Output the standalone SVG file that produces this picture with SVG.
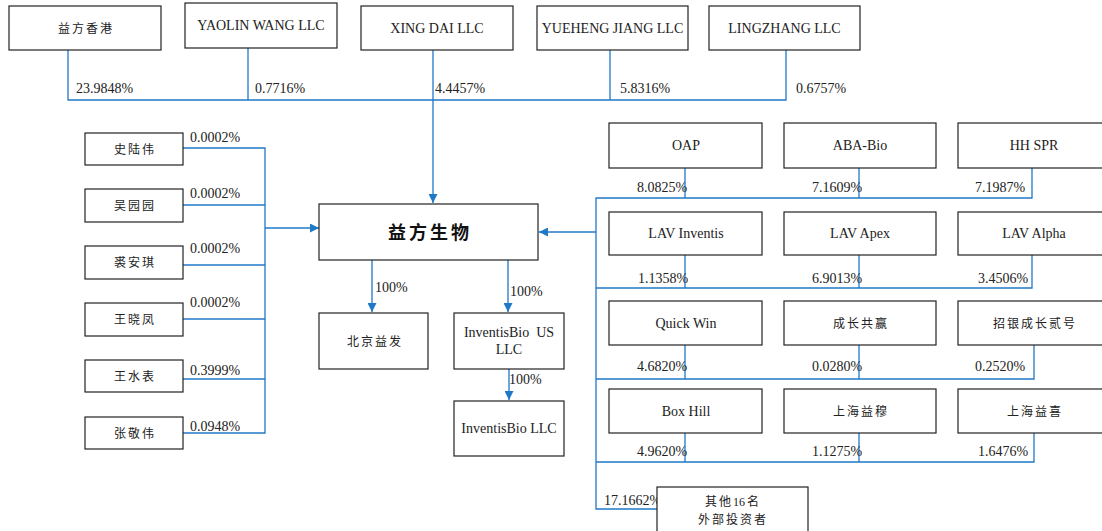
<svg xmlns="http://www.w3.org/2000/svg" width="1102" height="531" viewBox="0 0 1102 531">
<style>
.box{fill:#fff;stroke:#222;stroke-width:1.2}
.t{font-family:"Liberation Serif","Noto Sans CJK SC",serif;font-size:14px;fill:#222}
.c{text-anchor:middle}
.zh{font-family:"Liberation Serif","Noto Sans CJK SC",serif;font-size:12px;letter-spacing:2px;fill:#222;text-anchor:middle}
.ln{fill:none;stroke:#1F78C8;stroke-width:1.3}
</style>
<defs>
<marker id="arr" viewBox="0 0 10 10" refX="10" refY="5" markerWidth="9" markerHeight="9" markerUnits="userSpaceOnUse" orient="auto">
<path d="M0,0 L10,5 L0,10 z" fill="#1F78C8"/>
</marker>
</defs>
<rect width="1102" height="531" fill="#fff"/>

<g id="connectors">
<path class="ln" d="M68,50 V100 H786 V50"/>
<path class="ln" d="M248,48 V100"/>
<path class="ln" d="M610,50 V100"/>
<path class="ln" d="M433,50 V203" marker-end="url(#arr)"/>
<path class="ln" d="M183,148 H265 V433 H183"/>
<path class="ln" d="M183,205 H265"/>
<path class="ln" d="M183,265 H265"/>
<path class="ln" d="M183,319 H265"/>
<path class="ln" d="M183,379 H265"/>
<path class="ln" d="M265,228 H319" marker-end="url(#arr)"/>
<path class="ln" d="M372,260 V312" marker-end="url(#arr)"/>
<path class="ln" d="M508,260 V312" marker-end="url(#arr)"/>
<path class="ln" d="M509,369 V400" marker-end="url(#arr)"/>
<path class="ln" d="M1032,168 V198 H596 V509 H657"/>
<path class="ln" d="M685,168 V198"/>
<path class="ln" d="M859,168 V198"/>
<path class="ln" d="M1032,255 V288 H596"/>
<path class="ln" d="M685,255 V288"/>
<path class="ln" d="M859,255 V288"/>
<path class="ln" d="M1034,345 V379 H596"/>
<path class="ln" d="M685,345 V379"/>
<path class="ln" d="M859,345 V379"/>
<path class="ln" d="M1034,433 V462 H596"/>
<path class="ln" d="M685,433 V462"/>
<path class="ln" d="M859,433 V462"/>
<path class="ln" d="M596,232 H539" marker-end="url(#arr)"/>
</g>

<g id="labels">
<text class="t" x="76" y="93">23.9848%</text>
<text class="t" x="255" y="93">0.7716%</text>
<text class="t" x="435" y="93">4.4457%</text>
<text class="t" x="620" y="93">5.8316%</text>
<text class="t" x="796" y="93">0.6757%</text>
<text class="t" x="190" y="142">0.0002%</text>
<text class="t" x="190" y="198">0.0002%</text>
<text class="t" x="190" y="253">0.0002%</text>
<text class="t" x="190" y="307">0.0002%</text>
<text class="t" x="190" y="375">0.3999%</text>
<text class="t" x="190" y="431">0.0948%</text>
<text class="t" x="375" y="292">100%</text>
<text class="t" x="510" y="296">100%</text>
<text class="t" x="509" y="384">100%</text>
<text class="t" x="637" y="192">8.0825%</text>
<text class="t" x="812" y="192">7.1609%</text>
<text class="t" x="975" y="192">7.1987%</text>
<text class="t" x="638" y="283">1.1358%</text>
<text class="t" x="812" y="283">6.9013%</text>
<text class="t" x="978" y="283">3.4506%</text>
<text class="t" x="637" y="371">4.6820%</text>
<text class="t" x="812" y="371">0.0280%</text>
<text class="t" x="975" y="371">0.2520%</text>
<text class="t" x="637" y="456">4.9620%</text>
<text class="t" x="812" y="456">1.1275%</text>
<text class="t" x="978" y="456">1.6476%</text>
<text class="t" x="604" y="505">17.1662%</text>
</g>

<g id="n-yifang-hk"><rect class="box" x="9" y="6" width="152" height="44"/><text class="zh" x="86" y="33">益方香港</text></g>
<g id="n-yaolin"><rect class="box" x="185" y="3" width="152" height="45"/><text class="t c" x="261" y="30">YAOLIN WANG LLC</text></g>
<g id="n-xingdai"><rect class="box" x="361" y="6" width="152" height="44"/><text class="t c" x="437" y="33">XING DAI LLC</text></g>
<g id="n-yueheng"><rect class="box" x="537" y="6" width="151" height="44"/><text class="t c" x="612.5" y="33">YUEHENG JIANG LLC</text></g>
<g id="n-lingzhang"><rect class="box" x="709" y="6" width="151" height="44"/><text class="t c" x="784.5" y="33">LINGZHANG LLC</text></g>

<g id="n-shi"><rect class="box" x="85" y="133" width="98" height="32"/><text class="zh" x="135" y="153.5">史陆伟</text></g>
<g id="n-wu"><rect class="box" x="85" y="189" width="98" height="33"/><text class="zh" x="135" y="210">吴园园</text></g>
<g id="n-qiu"><rect class="box" x="85" y="246" width="98" height="33"/><text class="zh" x="135" y="267">裘安琪</text></g>
<g id="n-wangxf"><rect class="box" x="85" y="303" width="98" height="33"/><text class="zh" x="135" y="324">王晓凤</text></g>
<g id="n-wangsb"><rect class="box" x="85" y="360" width="98" height="32"/><text class="zh" x="135" y="380.5">王水表</text></g>
<g id="n-zhang"><rect class="box" x="85" y="417" width="98" height="32"/><text class="zh" x="135" y="437.5">张敬伟</text></g>

<g id="n-main"><rect class="box" x="319" y="204" width="219" height="56"/><text x="430" y="238.5" style="font-family:'Liberation Serif','Noto Sans CJK SC',serif;font-size:18px;font-weight:bold;letter-spacing:3px;fill:#111;text-anchor:middle">益方生物</text></g>
<g id="n-beijing"><rect class="box" x="319" y="313" width="109" height="56"/><text class="zh" x="375" y="345.5">北京益发</text></g>
<g id="n-inv-us"><rect class="box" x="454" y="313" width="110" height="56"/><text class="t c" x="509" y="337" xml:space="preserve">InventisBio  US</text><text class="t c" x="509" y="354">LLC</text></g>
<g id="n-inv"><rect class="box" x="454" y="401" width="110" height="55"/><text class="t c" x="509" y="433">InventisBio LLC</text></g>

<g id="n-oap"><rect class="box" x="609" y="123" width="153" height="45"/><text class="t c" x="686" y="150">OAP</text></g>
<g id="n-aba"><rect class="box" x="784" y="123" width="152" height="45"/><text class="t c" x="860" y="150">ABA-Bio</text></g>
<g id="n-hh"><rect class="box" x="958" y="123" width="152" height="45"/><text class="t c" x="1034" y="150">HH SPR</text></g>
<g id="n-lav-inv"><rect class="box" x="609" y="212" width="153" height="43"/><text class="t c" x="686" y="238">LAV Inventis</text></g>
<g id="n-lav-apex"><rect class="box" x="784" y="212" width="152" height="43"/><text class="t c" x="860" y="238">LAV Apex</text></g>
<g id="n-lav-alpha"><rect class="box" x="958" y="212" width="152" height="43"/><text class="t c" x="1034" y="238">LAV Alpha</text></g>
<g id="n-quick"><rect class="box" x="609" y="301" width="153" height="44"/><text class="t c" x="686" y="328">Quick Win</text></g>
<g id="n-czgy"><rect class="box" x="784" y="301" width="152" height="44"/><text class="zh" x="861" y="328">成长共赢</text></g>
<g id="n-zy"><rect class="box" x="958" y="301" width="152" height="44"/><text class="zh" x="1035" y="328">招银成长贰号</text></g>
<g id="n-boxhill"><rect class="box" x="609" y="389" width="153" height="44"/><text class="t c" x="686" y="416">Box Hill</text></g>
<g id="n-shym"><rect class="box" x="784" y="389" width="152" height="44"/><text class="zh" x="861" y="416">上海益穆</text></g>
<g id="n-shyx"><rect class="box" x="958" y="389" width="152" height="44"/><text class="zh" x="1035" y="416">上海益喜</text></g>
<g id="n-others"><rect class="box" x="657" y="487" width="151" height="52"/><text class="zh" x="733" y="505.5">其他<tspan style="letter-spacing:0">1</tspan>6名</text><text class="zh" x="733" y="523.5">外部投资者</text></g>
</svg>
